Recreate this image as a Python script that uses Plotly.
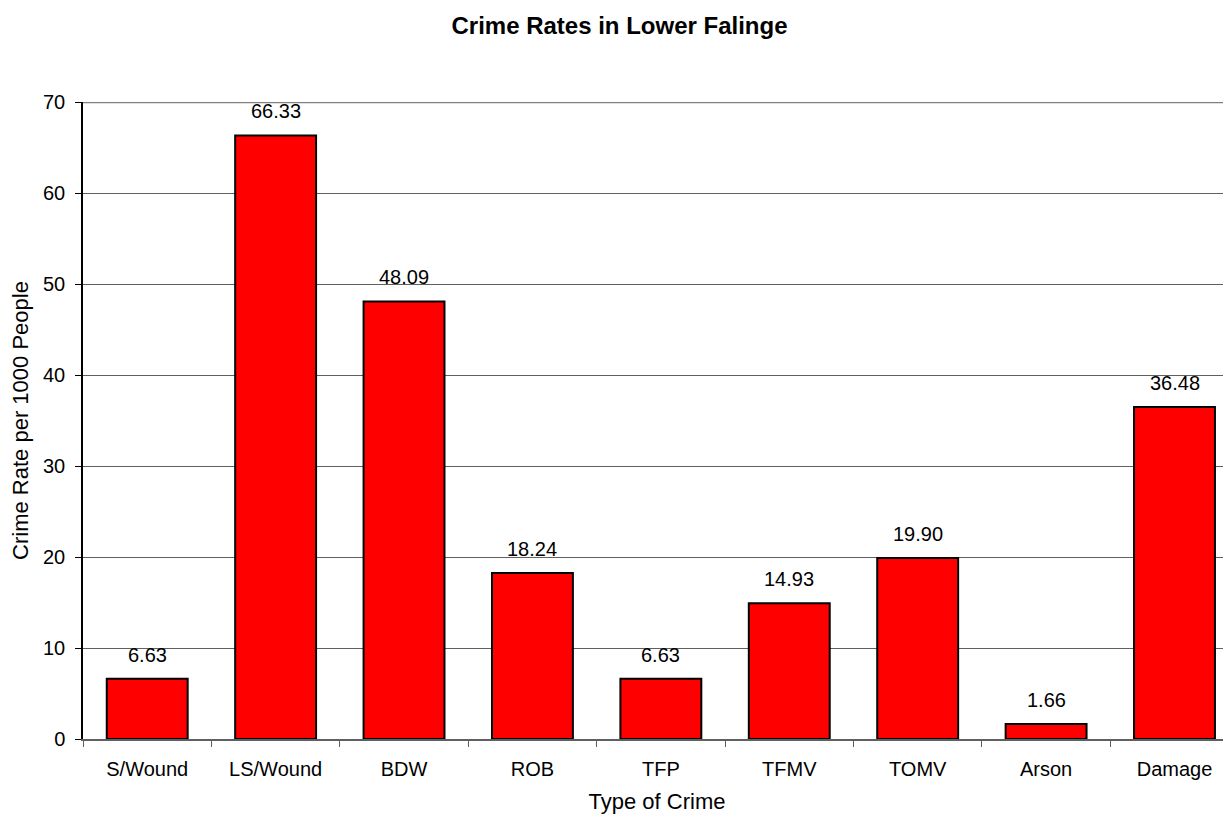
import plotly.graph_objects as go

categories = ["S/Wound", "LS/Wound", "BDW", "ROB", "TFP", "TFMV", "TOMV", "Arson", "Damage"]
rates = [6.63, 66.33, 48.09, 18.24, 6.63, 14.93, 19.90, 1.66, 36.48]
y_ticks = [0, 10, 20, 30, 40, 50, 60, 70]

title_text = "Crime Rates in Lower Falinge"
x_title = "Type of Crime"
y_title = "Crime Rate per 1000 People"

FONT = "Liberation Sans, Arial, sans-serif"

# the page body has an 8px default margin; the figure is sized to fit the rest
W, H = 1223, 810

fig = go.Figure()
fig.add_trace(go.Bar(
    x=categories,
    y=rates,
    width=0.63,
    marker=dict(color="#FF0000", line=dict(color="#000000", width=2)),
    hoverinfo="x+y",
))

for c, v in zip(categories, rates):
    fig.add_annotation(
        x=c, y=v, text=f"{v:.2f}", showarrow=False,
        yanchor="middle", yshift=24,
        font=dict(family=FONT, size=20, color="#000000"),
    )

# top border of the plot area (grey frame line)
fig.add_shape(type="line", xref="paper", yref="y", x0=0, x1=1, y0=70, y1=70,
              line=dict(color="#808080", width=2.5), layer="above")

fig.update_layout(
    width=W, height=H,
    paper_bgcolor="white", plot_bgcolor="white",
    margin=dict(l=75, r=0, t=94, b=79, autoexpand=False),
    font=dict(family=FONT, size=20, color="#000000"),
    showlegend=False,
    title=dict(text=f"<b>{title_text}</b>", x=0.5, xref="container", xanchor="center",
               y=1 - 18 / H, yref="container", yanchor="middle",
               font=dict(family=FONT, size=24, color="#000000")),
    xaxis=dict(
        type="category", range=[-0.5, 8.44],
        tickson="boundaries", ticks="outside", ticklen=6, tickcolor="#606060", tickwidth=1,
        showline=True, linecolor="#606060", linewidth=1.5,
        showgrid=False, zeroline=False,
        ticklabelstandoff=11,
        tickfont=dict(family=FONT, size=20, color="#000000"),
        title=dict(text=x_title, standoff=15, font=dict(family=FONT, size=22, color="#000000")),
    ),
    yaxis=dict(
        range=[0, 70], tickvals=y_ticks,
        ticks="outside", ticklen=6, tickcolor="#000000", tickwidth=1,
        showline=True, linecolor="#000000", linewidth=1.5,
        showgrid=True, gridcolor="#606060", gridwidth=1,
        zeroline=False,
        ticklabelstandoff=6,
        tickfont=dict(family=FONT, size=20, color="#000000"),
        title=dict(text=y_title, standoff=19, font=dict(family=FONT, size=22, color="#000000")),
    ),
)

fig.write_html("out.html")
